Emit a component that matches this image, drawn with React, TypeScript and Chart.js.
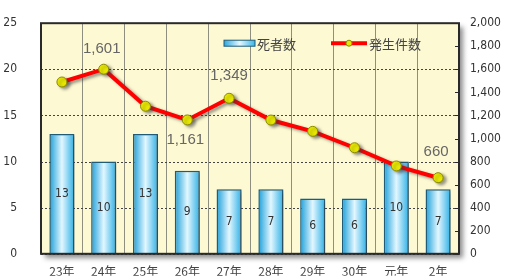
import React, { useEffect, useRef } from "react";
import { Chart, registerables } from "chart.js";

Chart.register(...registerables);

const categories = ["23年", "24年", "25年", "26年", "27年", "28年", "29年", "30年", "元年", "2年"];
const deaths = [13, 10, 13, 9, 7, 7, 6, 6, 10, 7];
const incidents = [1490, 1601, 1280, 1161, 1349, 1160, 1062, 920, 762, 660];
const deathLabel = "死者数";
const incidentLabel = "発生件数";
const leftMax = 25;
const leftStep = 5;
const rightMax = 2000;
const rightStep = 200;
// which line points get a value label
const labeledPoints = [1, 3, 4, 9];

const NARROW = '"Liberation Sans Narrow", "DejaVu Sans Condensed", "Liberation Sans", sans-serif';
const JP = '"Noto Sans CJK JP", sans-serif';

const labelOffsets: Record<number, [number, number]> = {
  1: [-2, -20],
  3: [-2, 20],
  4: [0, -22],
  9: [-2, -26],
};

const framePlugin = {
  id: "frame",
  beforeDraw(chart: any) {
    const { ctx, chartArea: a } = chart;
    ctx.save();
    ctx.fillStyle = "#ffffff";
    ctx.fillRect(0, 0, chart.width, chart.height);
    ctx.shadowColor = "rgba(0,0,0,0.45)";
    ctx.shadowBlur = 5;
    ctx.shadowOffsetX = 4;
    ctx.shadowOffsetY = 4;
    ctx.fillStyle = "#fdf9d2";
    ctx.fillRect(a.left, a.top, a.right - a.left, a.bottom - a.top);
    ctx.restore();
  },
  beforeDatasetsDraw(chart: any) {
    const { ctx, chartArea: a } = chart;
    const y = chart.scales.y;
    ctx.save();
    ctx.strokeStyle = "#444";
    ctx.lineWidth = 1;
    ctx.setLineDash([2, 2]);
    y.ticks.forEach((t: any) => {
      const py = Math.round(y.getPixelForValue(t.value)) + 0.5;
      ctx.beginPath();
      ctx.moveTo(a.left, py);
      ctx.lineTo(a.right, py);
      ctx.stroke();
    });
    ctx.restore();
  },
  beforeDatasetDraw(chart: any) {
    const ctx = chart.ctx;
    ctx.save();
    ctx.shadowColor = "rgba(60,60,60,0.5)";
    ctx.shadowBlur = 3;
    ctx.shadowOffsetX = 3;
    ctx.shadowOffsetY = 2;
  },
  afterDatasetDraw(chart: any) {
    chart.ctx.restore();
  },
  afterDraw(chart: any) {
    const { ctx, chartArea: a } = chart;
    ctx.save();
    ctx.strokeStyle = "#2a2a2a";
    ctx.lineWidth = 2;
    ctx.strokeRect(a.left, a.top, a.right - a.left, a.bottom - a.top);

    // small ticks on the right edge
    const y1 = chart.scales.y1;
    ctx.lineWidth = 1;
    y1.ticks.forEach((t: any) => {
      const py = Math.round(y1.getPixelForValue(t.value)) + 0.5;
      ctx.beginPath();
      ctx.moveTo(a.right - 4, py);
      ctx.lineTo(a.right, py);
      ctx.stroke();
    });

    // bar value labels
    const barMeta = chart.getDatasetMeta(0);
    ctx.font = `12px ${NARROW}`;
    ctx.fillStyle = "#333";
    ctx.textAlign = "center";
    ctx.textBaseline = "middle";
    barMeta.data.forEach((el: any, i: number) => {
      ctx.fillText(String(deaths[i]), el.x, (el.y + el.base) / 2);
    });

    // line value labels
    const lineMeta = chart.getDatasetMeta(1);
    ctx.font = `15px "Liberation Sans", sans-serif`;
    ctx.fillStyle = "#666";
    labeledPoints.forEach((i) => {
      const el = lineMeta.data[i];
      const [dx, dy] = labelOffsets[i];
      ctx.fillText(incidents[i].toLocaleString("en-US"), el.x + dx, el.y + dy);
    });

    // legend inside plot
    const ly = a.top + 20;
    const bx = 224;
    const g = ctx.createLinearGradient(bx, 0, bx + 31, 0);
    g.addColorStop(0, "#2aa8df");
    g.addColorStop(0.5, "#e4f7ff");
    g.addColorStop(1, "#3ab6e8");
    ctx.fillStyle = g;
    ctx.fillRect(bx, ly - 3, 31, 6);
    ctx.strokeStyle = "#1f5c7a";
    ctx.lineWidth = 1;
    ctx.strokeRect(bx, ly - 3, 31, 6);
    ctx.font = `13px ${JP}`;
    ctx.fillStyle = "#444";
    ctx.textAlign = "left";
    ctx.fillText(deathLabel, bx + 33, ly + 1);
    const lx = 331;
    ctx.strokeStyle = "#ff0000";
    ctx.lineWidth = 4;
    ctx.beginPath();
    ctx.moveTo(lx, ly);
    ctx.lineTo(lx + 36, ly);
    ctx.stroke();
    ctx.beginPath();
    ctx.arc(lx + 18, ly, 3, 0, Math.PI * 2);
    ctx.fillStyle = "#e6e600";
    ctx.fill();
    ctx.strokeStyle = "#8a8a00";
    ctx.lineWidth = 1;
    ctx.stroke();
    ctx.fillStyle = "#444";
    ctx.fillText(incidentLabel, lx + 38, ly + 1);
    ctx.restore();
  },
};

export default function App() {
  const ref = useRef<HTMLCanvasElement>(null);
  useEffect(() => {
    document.body.style.margin = "0";
    const chart = new Chart(ref.current!, {
      type: "bar",
      data: {
        labels: categories,
        datasets: [
          {
            type: "bar",
            label: deathLabel,
            data: deaths,
            yAxisID: "y",
            order: 2,
            categoryPercentage: 1,
            barPercentage: 0.6,
            borderColor: "#1f5c7a",
            borderWidth: 1.5,
            backgroundColor: (c: any) => {
              const chart = c.chart;
              const x = chart.scales?.x;
              if (!x || c.dataIndex === undefined) return "#5cc4ee";
              const cx = x.getPixelForValue(c.dataIndex);
              const w = (x.width / categories.length) * 0.6;
              if (!isFinite(cx) || !isFinite(w) || w <= 0) return "#5cc4ee";
              const g = chart.ctx.createLinearGradient(cx - w / 2, 0, cx + w / 2, 0);
              g.addColorStop(0, "#1c9fd9");
              g.addColorStop(0.5, "#e2f7ff");
              g.addColorStop(1, "#2eb0e6");
              return g;
            },
          },
          {
            type: "line",
            label: incidentLabel,
            data: incidents,
            yAxisID: "y1",
            order: 1,
            borderColor: "#ff0000",
            borderWidth: 4,
            tension: 0,
            pointRadius: 5,
            pointBackgroundColor: "#e8e800",
            pointBorderColor: "#8c8c00",
            pointBorderWidth: 1,
          },
        ],
      },
      options: {
        responsive: false,
        animation: false,
        layout: { padding: { top: 16, left: 0, right: 0, bottom: 0 } },
        plugins: { legend: { display: false }, tooltip: { enabled: false } },
        scales: {
          x: {
            offset: true,
            grid: { offset: true, color: "#8f8f80", lineWidth: 1, drawTicks: false },
            border: { display: false },
            ticks: { padding: 10, color: "#444", font: { size: 12, family: JP } },
            afterFit: (s: any) => { s.height = 22; },
          },
          y: {
            position: "left",
            min: 0,
            max: leftMax,
            ticks: { stepSize: leftStep, padding: 16, color: "#333", font: { size: 12, family: NARROW } },
            grid: { display: false },
            border: { display: false },
            afterFit: (s: any) => { s.width = 41; },
          },
          y1: {
            position: "right",
            min: 0,
            max: rightMax,
            ticks: {
              stepSize: rightStep,
              padding: 11,
              color: "#333",
              font: { size: 12, family: NARROW },
              callback: (v: any) => Number(v).toLocaleString("en-US"),
            },
            grid: { drawOnChartArea: false, drawTicks: false },
            border: { display: false },
            afterFit: (s: any) => { s.width = 59; },
          },
        },
      },
      plugins: [framePlugin],
    });
    return () => chart.destroy();
  }, []);
  return (
    <div style={{ position: "absolute", left: 0, top: 0, width: 518, height: 277 }}>
      <canvas ref={ref} width={518} height={277} />
    </div>
  );
}
